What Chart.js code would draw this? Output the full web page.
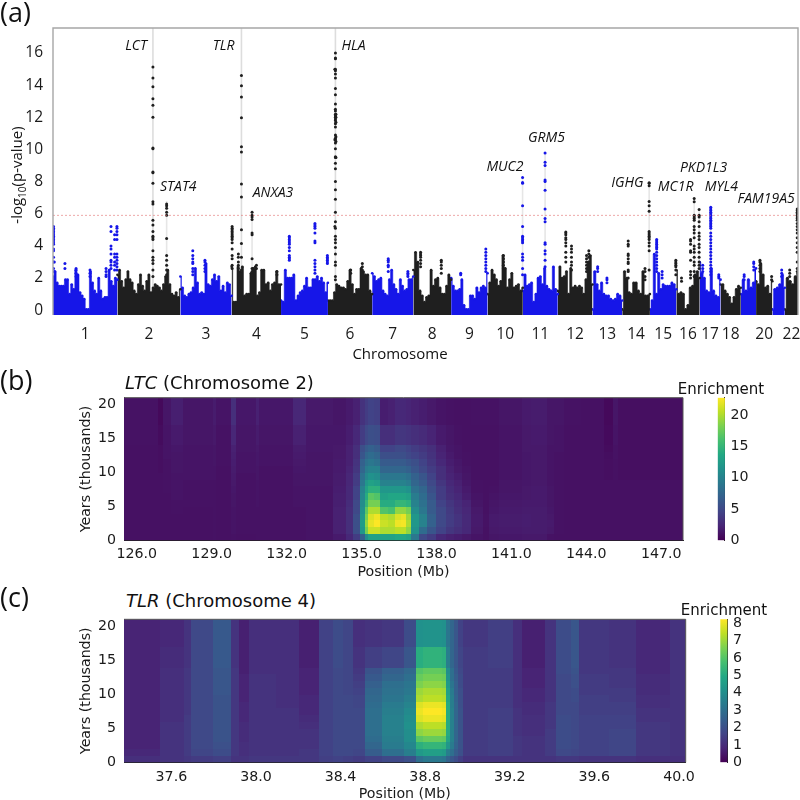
<!DOCTYPE html>
<html>
<head>
<meta charset="utf-8">
<script src="https://cdn.jsdelivr.net/npm/chart.js@4/dist/chart.umd.min.js"></script>
<style>
  html, body { margin: 0; background: #fff; }
  #page { position: relative; width: 800px; height: 800px; overflow: hidden; }
  canvas { position: absolute; }
  .txt { position: absolute; white-space: nowrap; color: #111; line-height: 1; }
  .panel { font: 27px "Open Sans"; }
  .title { font: 18px "DejaVu Sans"; }
  .cbar { font: 15px "DejaVu Sans"; transform: translateX(-50%); }
  #ylab { font: 15px "Open Sans"; left: 16px; top: 175px; transform: translate(-50%,-50%) rotate(-90deg); }
  #ylab sub { font-size: 10px; line-height: 0; }
  #xlab { font: 15px "Open Sans"; left: 400px; top: 353px; transform: translate(-50%,-50%); }
</style>
</head>
<body>
<div id="page">
  <canvas id="manhattan" width="830" height="370" style="left:0;top:0"></canvas>
  <canvas id="ltcHeat" width="700" height="200" style="left:0;top:390px"></canvas>
  <canvas id="ltcBar" width="100" height="200" style="left:700px;top:390px"></canvas>
  <canvas id="tlrHeat" width="700" height="200" style="left:0;top:612px"></canvas>
  <canvas id="tlrBar" width="100" height="200" style="left:700px;top:612px"></canvas>
  <div class="txt panel" style="left:0;top:-7px">(a)</div>
  <div class="txt panel" style="left:0;top:361px">(b)</div>
  <div class="txt panel" style="left:0;top:578px">(c)</div>
  <div class="txt" id="ylab">-log<sub>10</sub>(p-value)</div>
  <div class="txt" id="xlab">Chromosome</div>
  <div class="txt title" style="left:125px;top:372px"><i>LTC</i> (Chromosome 2)</div>
  <div class="txt title" style="left:126px;top:590px"><i>TLR</i> (Chromosome 4)</div>
  <div class="txt cbar" style="left:721px;top:380px">Enrichment</div>
  <div class="txt cbar" style="left:724px;top:601px">Enrichment</div>
</div>
<script>
// chromosome lengths in Mb, used as the x axis of panel (a)
const chromNames = ["1","2","3","4","5","6","7","8","9","10","11","12","13","14","15","16","17","18","","20","","22"];
const chromLengths = [249,243,198,191,181,171,159,146,141,136,135,134,115,107,102,90,81,78,59,63,48,51];

// top of the dense cloud of SNPs along each chromosome
const chr1 = [2.1,2.4,1.7,1.5,1.5,1.5,1.9,1.9,1.0,1.6,1.3,2.5,2.2,1.1,0.9,0.7,0.05,0.05,2.4,1.7,1.2,1.0,2.0,1.2,0.7,0.8,0.8,2.5,1.8,1.5,2.0,1.9];
const chr2 = [2.2,2.5,1.8,1.4,1.9,2.4,1.9,1.7,1.2,1.0,1.6,2.2,1.5,1.2,1.8,2.2,1.1,1.4,1.6,1.5,1.4,1.2,1.6,2.1,2.5,1.6,1.0,0.9,1.1,0.8,1.3];
const chr3 = [2.1,1.4,0.9,0.8,1.0,1.1,1.4,2.6,1.7,1.0,1.1,1.0,2.9,1.6,1.5,1.9,2.2,1.8,2.1,1.2,1.5,1.1,1.7,1.6,0.9];
const chr4 = [2.7,0.5,0.5,2.7,2.4,2.7,0.9,1.0,1.0,2.3,2.6,2.7,0.9,1.1,2.5,2.5,1.6,1.7,1.2,1.6,1.7,2.4,1.6,1.6];
const chr5 = [0.6,0.5,2.5,2.0,2.0,2.0,2.2,0.6,0.9,1.1,1.2,1.5,2.0,1.4,1.4,1.9,1.9,2.1,1.8,2.0,1.7,1.1,1.7];
const chr6 = [0.6,0.6,0.6,1.1,1.6,1.5,1.4,1.4,1.3,1.8,2.5,1.6,1.0,1.3,1.3,2.6,2.4,2.2,2.2,1.2,1.0];
const chr7 = [2.3,2.1,1.8,1.9,2.0,1.2,1.0,0.9,1.9,2.5,1.6,1.3,1.0,1.9,1.5,1.2,1.3,1.9,1.9,2.1];
const chr8 = [2.5,3.6,3.0,1.2,0.9,0.5,0.8,0.9,2.5,1.5,1.9,2.0,1.4,1.0,1.0,1.5,2.2,1.9];
const chr9 = [2.0,1.5,1.2,1.2,1.3,1.9,0.3,0.05,0.05,0.9,0.9,0.7,1.4,1.1,1.4,1.5,1.4,2.3];
const chr10 = [1.0,1.7,2.5,2.2,1.9,1.5,1.8,3.4,2.6,1.4,1.9,2.3,1.4,1.5,1.6,1.2,1.4];
const chr11 = [1.2,2.2,1.5,1.6,1.7,0.5,1.0,2.0,2.1,1.6,2.6,1.5,1.3,1.2,2.7,1.3,1.0];
const chr12 = [1.2,2.7,2.0,2.1,2.4,1.0,2.6,1.4,1.5,1.4,1.5,1.4,1.0,1.9,3.0,3.4,1.6];
const chr13 = [0.05,2.4,1.6,1.2,1.7,1.0,0.9,0.9,0.7,0.6,0.7,1.0,0.9,0.6];
const chr14 = [0.05,2.4,2.0,1.1,1.0,1.7,1.7,1.2,1.0,2.4,0.9,0.9,1.0];
const chr15 = [0.05,0.6,3.5,1.0,2.3,1.3,1.6,1.5,1.5,1.5,1.7,1.6,1.3];
const chr16 = [2.5,1.0,1.1,1.0,0.05,0.3,1.4,1.5,2.2,2.4,2.0];
const chr17 = [3.0,2.3,2.0,1.2,1.1,2.6,1.2,0.9,0.8,1.9];
const chr18 = [1.6,1.6,1.2,1.0,0.8,0.4,0.8,1.3,1.5,1.4];
const chr19 = [1.0,1.9,1.2,1.9,1.4,1.7,2.6];
const chr20 = [1.8,1.6,2.9,2.2,1.4,1.5,1.0,1.8];
const chr21 = [0.05,1.3,1.4,1.6,2.2,1.4];
const chr22 = [0.05,2.0,1.8,1.6,2.1,2.3];
const chromTops = [chr1,chr2,chr3,chr4,chr5,chr6,chr7,chr8,chr9,chr10,chr11,chr12,chr13,chr14,chr15,chr16,chr17,chr18,chr19,chr20,chr21,chr22];

// single SNPs above the cloud: [genome position in Mb, -log10 p values...]
const blueHits = [
  [2,5.2,5.1,5.0,4.9,4.8,4.7,4.6,4.5,4.4,4.3,4.2,4.1,3.8,3.7,3.3,3.0,2.6],[5,3.0,2.4],[46,2.9,2.6],[89,2.6,2.5,2.3,2.1],[143,2.5,2.3,2.1],[205,2.6,2.4,2.2,2.1],
  [224,5.2,4.9,4.0,3.8,3.5,3.1,3.0,2.8,2.6],[238,4.7,4.4,3.5,3.3,3.0,2.8,2.5],[247,5.2,5.1,4.9,4.7,4.4,3.5,3.3,3.1,2.9,2.7,2.5],
  [540,3.7,3.4,3.2,3.0,2.9,2.6,2.4,2.2],[587,3.1,3.0,2.8,2.6,2.4],[913,4.6,4.5,4.4,4.3,4.2,4.1,3.9,3.7,3.4,3.3,3.2,3.1],
  [1012,5.4,5.3,5.2,5.1,4.8,4.3,4.2,3.1,2.9,2.7,2.5,2.3],[1060,3.4,3.3,3.2,3.1,3.0,2.9],[1295,3.2,3.1,3.0,2.8,2.7,2.4],[1371,2.4,2.3,2.2,2.1],
  [1575,2.3,2.2],[1672,3.8,3.6,3.4,3.2,3.0,2.8,2.6,2.4],[1814,8.25,7.95,7.9,6.5,5.2,4.6,4.5,4.4,4.3,4.2,3.5,3.3,3.1,2.6,2.2],
  [1901,9.78,9.2,9.0,8.1,8.0,7.47,6.3,5.7,5.5,4.2,4.1,3.7,3.5,3.1,2.7],[2104,2.7,2.6,2.4],[2140,2.0,1.9,1.7],
  [2332,4.4,4.3,4.2,4.1,4.0,3.9,3.8,3.6,3.4,3.2,3.0,2.8,2.6,2.4],[2353,2.4,2.2,2.0],[2510,2.8,2.6,2.4],
  [2541,6.4,6.3,6.2,6.1,6.0,5.9,5.8,5.7,5.6,5.5,5.4,5.3,5.2,5.1,4.8,4.6,4.4,4.2,4.0,3.8,3.6,3.4,3.2,3.0,2.8,2.6,2.4,2.2],
  [2572,2.2,2.1,2.0],[2670,2.2,2.1,1.9],[2707,3.0,2.9,2.7,2.5],[2815,2.5,2.3,2.1]
];
const blackHits = [
  [386,15.13,14.45,13.9,13.15,12.75,12.0,10.1,10.05,8.6,8.55,7.9,6.75,6.6,5.6,5.3,4.9,4.6,4.5,4.4,3.7,3.3,3.1,2.9,2.5,2.1],
  [439,6.6,6.5,6.35,6.1,5.9,4.46,3.4,3.1,2.8,2.5,2.2],[692,5.2,5.1,5.0,4.9,4.8,4.7,4.6,4.5,4.4,4.2,3.8,3.4,3.2,2.8,2.6],[716,3.5,3.3,3.0,2.8,2.6],
  [728,14.6,13.97,13.26,11.97,10.17,9.84,7.85,7.05,5.0,4.15,3.3,2.5],[769,6.1,5.9,5.8,5.65,4.8,4.7,3.2,2.6,2.4,2.2],[786,2.8,2.6],
  [865,2.4,2.2],[1091,16.0,15.7,15.65,15.0,14.9,14.7,14.45,13.8,13.4,12.83,12.5,12.4,12.2,12.1,12.0,11.9,11.8,11.6,11.4,10.9,10.7,10.6,10.4,10.05,9.55,9.5,9.15,8.8,8.0,7.5,6.9,6.1,5.5,5.1,4.6,4.4,4.2,3.9,3.5,3.0,2.8,2.1,1.9],
  [1093,12.2,12.0,11.7,10.8,10.5,9.5],[1089,15.0,10.6,5.2],[1195,2.9,2.7,2.5],[1150,2.5,2.3],[1420,3.6,3.5,3.4,3.3,3.1,2.9,2.7],[1500,3.1,3.0,2.8,2.6,2.3],
  [1740,3.4,3.2,3.0,2.8,2.6],[1981,4.87,4.8,4.7,4.5,4.4,4.2,4.0,3.6,3.3,3.0],[2003,4.0,3.8,3.6,3.3,3.0,2.8,2.5],[2061,3.4,3.2,3.0,2.8,2.6,2.4],[2070,3.7,3.5,3.3,3.0,2.6,2.4],
  [2222,4.3,4.1,4.0,3.5,3.4,3.2,3.0,2.9,2.5,2.4,2.0],[2287,2.6,2.4,2.1,1.9],[2303,7.93,7.9,7.75,6.77,6.5,6.16,4.9,4.8,4.7,4.6,4.5,4.4,4.2,4.0,3.7,2.5],
  [2406,3.1,3.0,2.9,2.8,2.7,2.5,2.2],[2428,2.0,1.8],[2463,4.4,4.3,4.1,3.7,3.6,3.1,2.4,2.2,2.0],[2477,6.95,6.75,5.9,5.8,5.7,5.6,5.2,5.0,4.8,4.5,4.0,3.8,3.6,3.3,3.0,2.8,2.4,2.1],
  [2496,6.27,5.9,5.8,5.5,5.2,4.8,4.6,4.4,4.1,3.9,3.6,3.3,3.0,2.8,2.6],[2731,3.1,3.0,2.8,2.6,2.4],[2776,2.1,1.9],[2846,2.5,2.3,2.1],
  [2875,6.3,6.2,6.1,6.0,5.9,5.8,5.7,5.6,5.4,5.2,5.0,4.8,4.5,4.2,3.9,3.6,3.0,2.6,2.4]
];

// gene labels with the genome position and the height they sit at
const geneNames = ["LCT","TLR","HLA","STAT4","ANXA3","MUC2","GRM5","IGHG","PKD1L3","MC1R","MYL4","FAM19A5"];
const genePos = [321,659,1161,484,850,1746,1906,2219,2513,2405,2582,2755];
const geneLift = [16.44,16.44,16.44,7.68,7.29,8.92,10.69,7.9,8.86,7.68,7.68,6.89];

// pale shafts behind the tall hits: [position, top]
const shaftTall = [386,728,1091];
const shaftShort = [[439,6.8],[769,6.2],[1814,8.25],[1901,9.8],[2303,7.9],[2477,7.0],[2496,6.3],[2541,6.4]];
const threshold = 5.9;
const minusLogTicks = [0,2,4,6,8,10,12,14,16];

// heat maps: rows are time bins in thousands of years
const yearEdges = [0,1,2,3,4,5,6,7,8,9,10,11,12,13,14,17,21];
const yearTicks = [0,5,10,15,20];

const ltcEdges = [125.49,126.87,127.07,127.4,127.87,129.07,129.2,129.8,130,130.8,130.93,132.27,132.8,133.87,134.4,134.67,134.96,135.17,135.26,135.53,135.76,136.06,136.37,136.6,136.8,137,137.33,137.66,138,138.4,138.73,139.06,139.4,139.87,140.13,140.53,141.46,141.8,142.46,142.73,143.13,143.8,144.73,145.07,145.27,147.87];
const ltcTicks = [126,129,132,135,138,141,144,147];
const ltcMax = 22.8;
const ltcColumns = [
  [1,1,1,1,1,1,1,1,1,1,1,1,1,1,1.1,1.1],
  [1,1,1,1,1,1,1,1,1,1,.9,.9,.9,.9,.7,.5],
  [1,1,1,1,1,1,1,1.1,1.1,1.1,1.1,1.1,1.2,1.2,1.2,1.3],
  [1,1,1,1,1.1,1.1,1.2,1.2,1.2,1.2,1.3,1.3,1.3,1.4,1.6,1.9],
  [1,1,1,1,1,1.1,1.1,1.1,1.1,1.2,1.2,1.2,1.2,1.2,1.3,1.3],
  [1.1,1.1,1.1,1.1,1.1,1.1,1.1,1.1,1.1,1.2,1.2,1.3,1.3,1.3,1.5,1.7],
  [1,1,1,1,1,1,1,1,1,1,1,1.1,1.1,1.1,1.1,1.2],
  [1.1,1.2,1.2,1.2,1.2,1.3,1.3,1.4,1.5,1.6,1.7,1.8,1.9,2,2.4,3],
  [1,1.1,1.1,1.1,1.1,1.1,1.1,1.1,1.1,1.1,1.2,1.2,1.2,1.3,1.3,1.4],
  [1.1,1.1,1.1,1.1,1.1,1.2,1.2,1.2,1.2,1.3,1.3,1.4,1.4,1.5,1.7,2],
  [1.1,1.1,1.1,1.1,1.1,1.1,1.1,1.1,1.1,1.1,1.1,1.2,1.2,1.2,1.3,1.4],
  [1.1,1.1,1.1,1.1,1.1,1.2,1.2,1.2,1.3,1.3,1.4,1.5,1.6,1.7,2,2.4],
  [1.2,1.2,1.2,1.2,1.2,1.2,1.2,1.2,1.3,1.3,1.3,1.3,1.3,1.4,1.4,1.5],
  [1.6,2,2,2,2,1.9,1.9,1.8,1.7,1.7,1.6,1.6,1.5,1.5,1.4,1.3],
  [2.5,3,3,3,3,2.8,2.6,2.6,2.4,2.4,2.2,2,2,2,1.8,1.6],
  [4,5.5,5.5,5.5,5,5,4.5,4.5,4,4,3.5,3.3,3,3,2.5,2],
  [7,12,12.5,12,11.5,11,10.5,10,9,8.5,7.5,7,6,5.5,4,3.2],
  [11,18,19,18,17,15,14,13,12,10.5,9.5,8.5,7.5,6.5,5,4],
  [13,21,22,21.5,20,18,17,14.5,13,11.5,10,9,8,7,5.5,4.5],
  [13,21,22.8,22.3,20,18,16.5,14.5,12.5,11,10,8.5,7.5,6.5,5.3,4.3],
  [13,20,21,20.5,16.5,14,13,12,10,9,7.5,6.5,5.5,4.5,3,1.8],
  [13,20,20.5,20,16,14,13.5,12,10,9,7.5,6.5,5.5,4.5,3,2],
  [13.5,20.5,22.3,21.5,19,15,13.5,12,10,9,7.5,6.5,5.5,5,3.5,2.5],
  [13.5,20.5,22.5,22,19,15,13.5,12,10,9,7.5,6.5,5.5,5,3.5,2.5],
  [13,19,20,19.5,18,14.5,13,11.5,9.5,8.5,7,6,5,4.5,3.3,2.3],
  [9,11.5,12,12,11,10,9.5,8.5,7.5,7,6,5.5,4.5,4,3,2],
  [5,8,10,10,9,8.5,8,7.5,6.5,6,5,4.5,4,3.5,2.7,1.8],
  [4,6,7,7,6.5,6.5,6,5.5,5,4.5,4,3.5,3.2,3,2.2,1.5],
  [2.5,4.5,5,5,5,4.5,4,4,3.5,3,3,2.5,2.2,2,1.6,1.2],
  [2,3.5,4,4,3.8,3.5,3,2.8,2.5,2.2,2,1.8,1.6,1.4,1.3,1.1],
  [1.8,3,3.3,3.3,3,2.8,2.5,2.2,2,1.8,1.5,1.4,1.2,1.2,1.1,1],
  [1.5,2.5,2.6,2.6,2.4,2.2,1.8,1.6,1.4,1.3,1.2,1.1,1.1,1,1,1],
  [1.2,1.5,1.6,1.6,1.5,1.3,1.2,1.1,1.1,1,1,1,1,1,1,1.1],
  [1,1,1.1,1.1,1,1,1,1,1,1,1,1,1,1,1,1.1],
  [1.3,1.5,1.6,1.6,1.4,1.3,1.2,1.1,1,1,1,1,1,1,1,1.1],
  [1.4,1.6,1.7,1.7,1.6,1.5,1.4,1.3,1.3,1.2,1.2,1.2,1.2,1.2,1.2,1.3],
  [1.5,1.7,1.8,1.8,1.7,1.6,1.5,1.5,1.4,1.4,1.4,1.4,1.4,1.5,1.5,1.6],
  [1.5,1.7,1.7,1.7,1.7,1.6,1.6,1.6,1.5,1.5,1.5,1.5,1.5,1.5,1.6,1.7],
  [1.1,1.5,1.6,1.5,1.4,1.3,1.3,1.3,1.2,1.2,1.2,1.2,1.2,1.2,1.3,1.3],
  [1,1.1,1.1,1.1,1.1,1.1,1.1,1.1,1.1,1.1,1.1,1.1,1.1,1.2,1.2,1.3],
  [1,1,1,1,1,1,1,1,1,1,1,1,1,1,1,1.1],
  [1,1,1,1,1,1,1,1,1,1,1,1,1,1,1,1],
  [1,1,1,1,1,1,1,1,1,.9,.9,.9,.8,.7,.6,.5],
  [1,1,1,1,1,1,1,1,1,1,1,1,1.1,1.1,1.2,1.3],
  [1,1,1,1,1,1,1,1,1,.9,.9,.9,.9,.9,.9,.9]
];

const tlrEdges = [37.376,37.55,37.663,37.695,37.797,37.884,37.923,37.97,38.097,38.207,38.302,38.365,38.412,38.46,38.52,38.6,38.7,38.76,38.79,38.88,38.9,38.92,38.94,38.96,38.98,39.1,39.22,39.26,39.37,39.42,39.49,39.53,39.67,39.8,39.96,40.032];
const tlrTicks = [37.6,38.0,38.4,38.8,39.2,39.6,40.0];
const tlrMax = 8.23;
const tlrColumns = [
  [1.1,.9,.8,.8,.8,.8,.8,.8,.8,.8,.8,.8,.8,.8,.8,.8],
  [1.2,1.2,1.2,1.2,1.2,1.2,1.1,1.1,1.1,1.1,1.1,1.1,1.1,1.1,1,.9],
  [1.3,1.4,1.4,1.4,1.4,1.4,1.4,1.3,1.3,1.3,1.3,1.3,1.3,1.3,1.2,1.2],
  [1.4,1.7,1.8,1.8,1.8,1.8,1.8,1.8,1.8,1.8,1.8,1.8,1.8,1.8,1.8,1.8],
  [1.5,1.9,2,2.1,2.1,2.1,2.1,2.1,2.1,2.1,2.2,2.2,2.2,2.2,2.3,2.3],
  [1.2,1.3,1.3,1.3,1.3,1.3,1.3,1.3,1.3,1.3,1.3,1.3,1.3,1.3,1.2,1.2],
  [1.2,1.1,1.1,1,1,1,.9,.9,.9,.8,.8,.8,.8,.7,.7,.7],
  [1.3,1.2,1.2,1.2,1.2,1.2,1.2,1.2,1.2,1.2,1.2,1.2,1.2,1.1,1.1,1.1],
  [1.3,1.2,1.2,1.2,1.2,1.2,1.2,1.2,1.1,1.1,1.1,1.1,1.1,1.1,1.1,1.1],
  [1.3,1.3,1.2,1.2,1.2,1.1,1,.9,.9,.9,.8,.8,.8,.8,.7,.7],
  [1.5,1.6,1.6,1.6,1.6,1.6,1.6,1.6,1.6,1.6,1.6,1.6,1.6,1.6,1.6,1.6],
  [1.6,1.8,1.8,1.8,1.8,1.8,1.8,1.8,1.8,1.8,1.8,1.8,1.8,1.8,1.9,1.9],
  [1.5,1.8,1.8,1.8,1.8,1.8,1.8,1.8,1.8,1.8,1.7,1.7,1.7,1.7,1.7,1.7],
  [1.4,1.7,1.8,1.8,1.8,1.8,1.8,1.8,1.7,1.7,1.6,1.5,1.4,1.3,1.2,1.1],
  [1.6,2.4,2.7,2.9,3,3,3,3,2.9,2.8,2.7,2.5,2.3,2.1,1.5,1.2],
  [1.8,3,3.4,3.5,3.6,3.6,3.6,3.5,3.4,3.2,3.1,3,2.7,2.5,1.7,1.3],
  [2,3.5,3.8,4,4,4.1,4,3.9,3.7,3.5,3.3,3.2,3,2.8,2.2,1.9],
  [3,4.4,5.2,6.1,6.8,7.2,7.8,8,7.8,7.2,7,6.6,6.3,6,5.1,4.1],
  [3.3,4.6,5.4,6.3,7,7.4,8,8.23,8,7.4,7.2,6.8,6.5,6.2,5.3,4.2],
  [3.2,4.5,5.3,6.2,6.9,7.3,7.9,8.1,7.9,7.3,7.1,6.7,6.4,6.1,5.2,4.1],
  [2.6,3.5,4.3,4.8,5,5,5,5,5,4.8,4.6,4.4,4.2,4,3.5,3.2],
  [2.2,3,3.4,3.6,3.6,3.6,3.6,3.6,3.5,3.5,3.4,3.2,3,3,2.7,2.7],
  [1.9,2.4,2.6,2.7,2.7,2.7,2.7,2.7,2.7,2.6,2.5,2.5,2.4,2.3,2.2,2.2],
  [1.5,2,2.1,2.1,2.1,2.1,2.1,2.1,2,2,2,1.9,1.9,1.8,1.7,1.6],
  [1.2,1.4,1.4,1.4,1.4,1.4,1.4,1.4,1.4,1.4,1.4,1.4,1.4,1.4,1.4,1.3],
  [1.2,1.5,1.5,1.5,1.5,1.5,1.5,1.5,1.4,1.4,1.4,1.4,1.4,1.4,1.5,1.5],
  [1.2,1.3,1.3,1.3,1.2,1.2,1.2,1.2,1.1,1.1,1.1,1.1,1.1,1.1,1.1,1.1],
  [1.2,1.2,1.2,1.2,1.1,1.1,1.1,1,1,.9,.9,.8,.8,.8,.7,.7],
  [1.2,1.4,1.4,1.4,1.4,1.3,1.3,1.3,1.3,1.2,1.2,1.2,1.2,1.2,1.2,1.2],
  [1.3,1.8,1.9,1.9,1.9,1.9,1.9,1.8,1.8,1.8,1.8,1.8,1.8,1.9,1.9,1.9],
  [1.3,1.7,1.8,1.8,1.8,1.8,1.8,1.8,1.8,1.9,1.9,2,2,2.1,2.2,2.2],
  [1.2,1.6,1.6,1.6,1.6,1.6,1.6,1.5,1.5,1.5,1.4,1.4,1.4,1.3,1.3,1.3],
  [1.2,1.7,1.7,1.7,1.7,1.6,1.6,1.5,1.5,1.4,1.4,1.3,1.3,1.3,1.2,1.2],
  [1.1,1.3,1.3,1.3,1.3,1.3,1.2,1.2,1.1,1.1,1,1,1,.9,.9,.9],
  [1.1,1.2,1.2,1.2,1.2,1.2,1.2,1.2,1.2,1.2,1.2,1.2,1.2,1.2,1.2,1.2]
];

const viridisStops = ["#440154","#482576","#414487","#355f8d","#2a788e","#21918c","#22a884","#44bf70","#7ad151","#bddf26","#fde725"];
const hexToRgb = h => [1,3,5].map(i => parseInt(h.substr(i,2),16));
function viridis(t) {
  const p = Math.min(Math.max(t,0),1) * (viridisStops.length-1);
  const i = Math.min(Math.floor(p), viridisStops.length-2);
  const a = hexToRgb(viridisStops[i]), b = hexToRgb(viridisStops[i+1]);
  const c = a.map((v,k) => Math.round(v + (b[k]-v)*(p-i)));
  return `rgb(${c[0]},${c[1]},${c[2]})`;
}

Chart.defaults.animation = false;
Chart.defaults.responsive = false;
Chart.defaults.plugins.legend.display = false;
Chart.defaults.plugins.tooltip.enabled = false;
Chart.defaults.color = "#1a1a1a";

const setTicks = list => (scale => { scale.ticks = list.map(v => ({value: v})); });

// ---- panel (a)
const blue = "#1616e8", black = "#1f1f1f";
const manhattanSets = [];
let start = 0;
const chromMids = [];
chromLengths.forEach((len, c) => {
  const tops = chromTops[c];
  const color = c % 2 ? black : blue;
  manhattanSets.push({
    data: tops.map((v,i) => ({x: start + len*i/(tops.length-1), y: v})),
    showLine: true, fill: "start", stepped: "middle", borderColor: color, backgroundColor: color,
    borderWidth: 0.6, pointRadius: 1.3, pointBackgroundColor: color, pointBorderWidth: 0, order: 5
  });
  chromMids.push(start + len/2);
  start += len;
});
function hitSet(hits, color) {
  const pts = [];
  hits.forEach(h => h.slice(1).forEach(v => pts.push({x: h[0], y: v})));
  return {data: pts, showLine: false, pointRadius: 1.5, pointBackgroundColor: color, pointBorderWidth: 0, order: 2};
}
manhattanSets.push(hitSet(blueHits, blue), hitSet(blackHits, black));
shaftTall.forEach(x => manhattanSets.push({data: [{x, y: 0},{x, y: 17.56}], showLine: true, borderColor: "#dddddd", borderWidth: 1.6, pointRadius: 0, order: 8}));
shaftShort.forEach(s => manhattanSets.push({data: [{x: s[0], y: 0},{x: s[0], y: s[1]}], showLine: true, borderColor: "#e6e6e6", borderWidth: 1.6, pointRadius: 0, order: 8}));
manhattanSets.push({data: [{x: 0, y: threshold},{x: 2878, y: threshold}], showLine: true, borderColor: "rgba(226,110,110,.75)", borderWidth: 0.8, borderDash: [2,2], pointRadius: 0, order: 1});

const geneLabelPlugin = {
  id: "geneLabels",
  afterDatasetsDraw(chart) {
    const {ctx, scales: {x, y}} = chart;
    ctx.save();
    ctx.font = "italic 14px 'Open Sans'";
    ctx.fillStyle = "#111";
    ctx.textAlign = "center";
    ctx.textBaseline = "middle";
    geneNames.forEach((n,i) => ctx.fillText(n, x.getPixelForValue(genePos[i]), y.getPixelForValue(geneLift[i])));
    ctx.strokeStyle = "#a6a6a6";
    ctx.lineWidth = 1.4;
    const a = chart.chartArea;
    ctx.beginPath();
    ctx.moveTo(a.left, a.bottom); ctx.lineTo(a.left, a.top); ctx.lineTo(a.right, a.top); ctx.lineTo(a.right, a.bottom);
    ctx.stroke();
    ctx.restore();
  }
};

new Chart(document.getElementById("manhattan"), {
  type: "scatter",
  data: {datasets: manhattanSets},
  plugins: [geneLabelPlugin],
  options: {
    // canvas runs 30px past the page so the "22" label cannot squeeze the plot
    layout: {padding: {left: 0, right: 32, top: 28, bottom: 0}},
    scales: {
      x: {
        type: "linear", min: 0, max: 2878,
        grid: {display: false, tickLength: 3, tickColor: "#888"},
        border: {display: false},
        afterBuildTicks: setTicks(chromMids),
        afterFit: s => { s.height = 55; s.paddingLeft = 0; s.paddingRight = 0; },
        ticks: {autoSkip: false, maxRotation: 0, padding: 7, font: {family: "Open Sans", size: 15.5}, callback: (v,i) => chromNames[i]}
      },
      y: {
        min: -0.3, max: 17.56,
        grid: {display: false, drawTicks: false},
        border: {display: false},
        afterBuildTicks: setTicks(minusLogTicks),
        afterFit: s => { s.width = 53; s.paddingTop = 0; s.paddingBottom = 0; },
        ticks: {autoSkip: false, padding: 10, font: {family: "Open Sans", size: 15.5}}
      }
    }
  }
});

// ---- heat maps
const heatPlugin = {
  id: "heatCells",
  beforeDatasetsDraw(chart) {
    const {ctx, chartArea: a} = chart;
    const set = chart.data.datasets[0];
    const {x, y} = chart.scales;
    // cells go on a scratch canvas first so the whole map can be softened at once
    const scratch = document.createElement("canvas");
    scratch.width = chart.width;
    scratch.height = chart.height;
    const sc = scratch.getContext("2d");
    set.data.forEach(c => {
      let x0 = Math.floor(x.getPixelForValue(c.x0)), x1 = Math.ceil(x.getPixelForValue(c.x1));
      let y1 = Math.ceil(y.getPixelForValue(c.y0)), y0 = Math.floor(y.getPixelForValue(c.y1));
      if (x0 <= a.left) x0 -= 6;
      if (x1 >= a.right) x1 += 6;
      if (y0 <= a.top) y0 -= 6;
      if (y1 >= a.bottom) y1 += 6;
      sc.fillStyle = viridis(c.v / set.vmax);
      sc.fillRect(x0, y0, x1-x0, y1-y0);
    });
    ctx.save();
    ctx.beginPath();
    ctx.rect(a.left, a.top, a.width, a.height);
    ctx.clip();
    ctx.filter = "blur(0.7px)";
    ctx.drawImage(scratch, 0, 0);
    ctx.restore();
  },
  afterDatasetsDraw(chart) {
    const {ctx, chartArea: a} = chart;
    ctx.save();
    ctx.strokeStyle = "#555";
    ctx.lineWidth = 1;
    ctx.beginPath();
    ctx.moveTo(a.left, a.top); ctx.lineTo(a.right, a.top); ctx.lineTo(a.right, a.bottom);
    ctx.stroke();
    ctx.restore();
  }
};

function heatCells(edges, columns) {
  const cells = [];
  columns.forEach((col, i) => col.forEach((v, r) => {
    cells.push({x: (edges[i]+edges[i+1])/2, y: (yearEdges[r]+yearEdges[r+1])/2,
      x0: edges[i], x1: edges[i+1], y0: yearEdges[r], y1: yearEdges[r+1], v});
  }));
  return cells;
}

function heatChart(id, edges, columns, ticks, vmax, yMax, padTop, padRight, tickPad) {
  const dark = "#222";
  return new Chart(document.getElementById(id), {
    type: "scatter",
    data: {datasets: [{data: heatCells(edges, columns), vmax, pointRadius: 0}]},
    plugins: [heatPlugin],
    options: {
      layout: {padding: {left: 78, right: padRight, top: padTop, bottom: 0}},
      scales: {
        x: {
          type: "linear", min: edges[0], max: edges[edges.length-1],
          grid: {display: false, tickLength: 3.5, tickColor: dark},
          border: {color: dark},
          afterBuildTicks: setTicks(ticks),
          afterFit: s => { s.height = 49.7; s.paddingLeft = 0; s.paddingRight = 0; },
          ticks: {autoSkip: false, maxRotation: 0, padding: tickPad, font: {family: "DejaVu Sans", size: 14.2}, callback: v => v.toFixed(1)},
          title: {display: true, text: "Position (Mb)", padding: {top: 0, bottom: 9}, font: {family: "DejaVu Sans", size: 14.2}}
        },
        y: {
          min: 0, max: yMax,
          grid: {display: false, tickLength: 3.5, tickColor: dark},
          border: {color: dark},
          afterBuildTicks: setTicks(yearTicks),
          afterFit: s => { s.width = 46; s.paddingTop = 0; s.paddingBottom = 0; },
          ticks: {autoSkip: false, padding: 4.5, font: {family: "DejaVu Sans", size: 14.2}},
          title: {display: true, text: "Years (thousands)", padding: 0, font: {family: "DejaVu Sans", size: 14.2}}
        }
      }
    }
  });
}

heatChart("ltcHeat", ltcEdges, ltcColumns, ltcTicks, ltcMax, 20.94, 7.7, 17, 2);
heatChart("tlrHeat", tlrEdges, tlrColumns, tlrTicks, tlrMax, 21.05, 7.3, 14.3, 3);

// ---- colour bars
function colorBar(id, vmax, step, padLeft, padTop) {
  const ticks = [];
  for (let v = 0; v <= vmax; v += step) ticks.push(v);
  return new Chart(document.getElementById(id), {
    type: "bar",
    data: {labels: [""], datasets: [{
      data: [[0, vmax]], barPercentage: 1, categoryPercentage: 1,
      backgroundColor: c => {
        const a = c.chart.chartArea;
        if (!a) return "#000";
        const g = c.chart.ctx.createLinearGradient(0, a.bottom, 0, a.top);
        viridisStops.forEach((col,i) => g.addColorStop(i/(viridisStops.length-1), col));
        return g;
      }
    }]},
    options: {
      layout: {padding: {left: padLeft, top: padTop, bottom: 49.7, right: 0}},
      scales: {
        x: {display: false},
        y: {
          position: "right", min: 0, max: vmax,
          grid: {display: false, tickLength: 3.5, tickColor: "#222"},
          border: {color: "#222"},
          afterBuildTicks: setTicks(ticks),
          afterFit: s => { s.width = 100 - padLeft - 7.2; s.paddingTop = 0; s.paddingBottom = 0; },
          ticks: {autoSkip: false, padding: 2, font: {family: "DejaVu Sans", size: 14.2}}
        }
      }
    }
  });
}
colorBar("ltcBar", ltcMax, 5, 17.7, 7.7);
colorBar("tlrBar", tlrMax, 1, 20.3, 7.3);
</script>
</body>
</html>
